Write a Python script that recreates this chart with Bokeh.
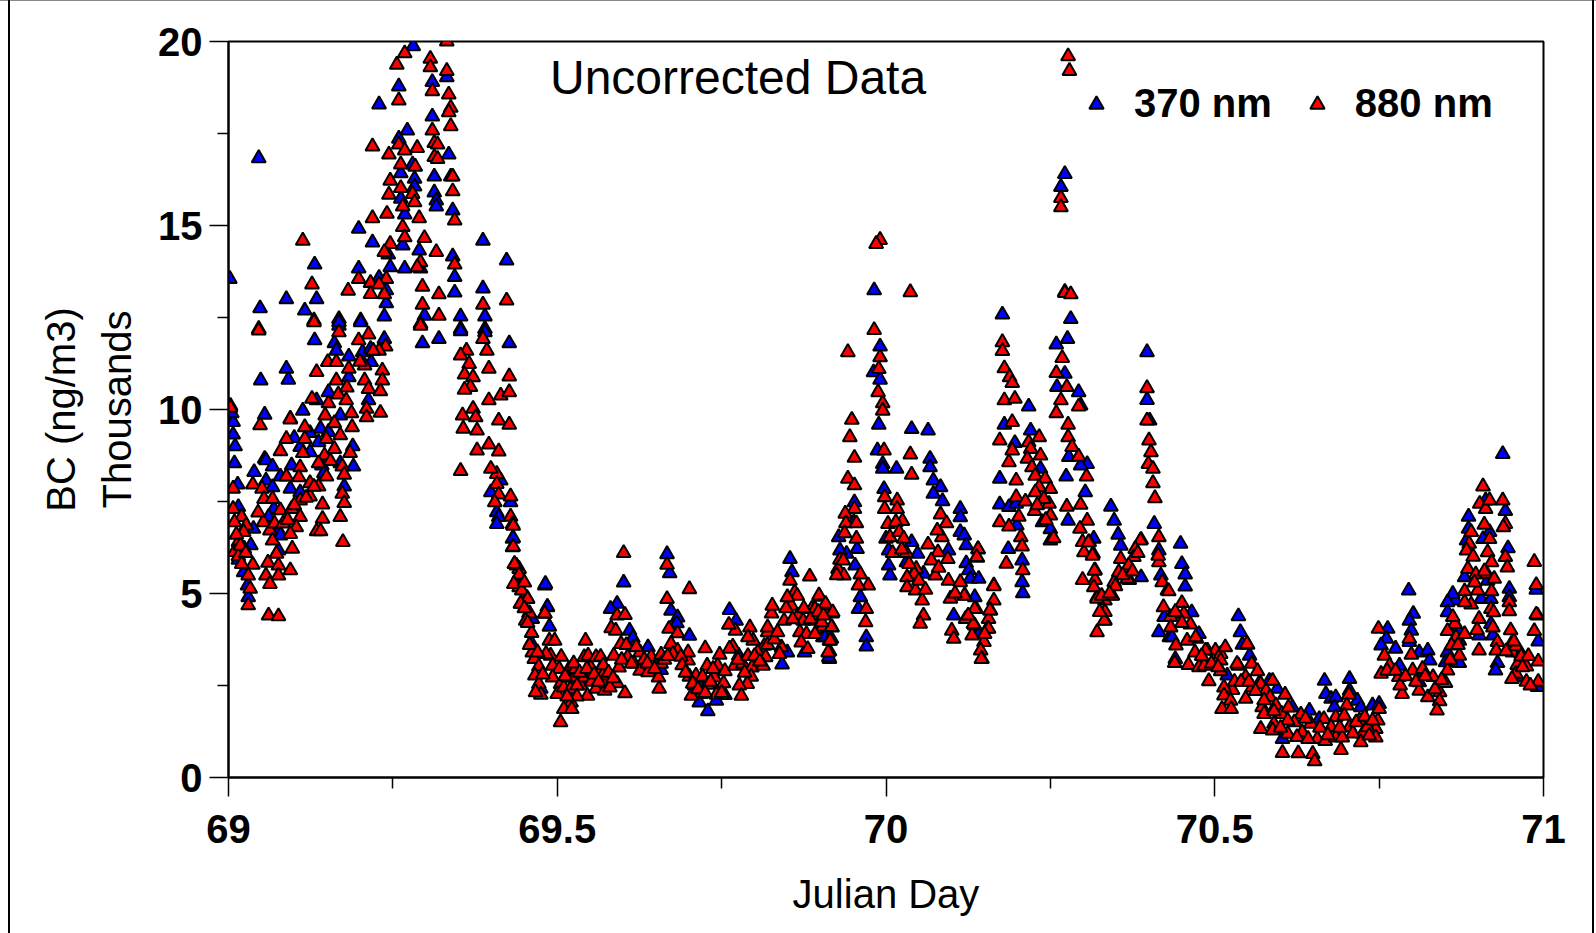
from bokeh.plotting import figure
from bokeh.embed import file_html
from bokeh.resources import INLINE
from bokeh.models import FixedTicker, Legend, LegendItem, LinearAxis, Label

blue_peak = [(69.281,19.87),(69.31,18.9),(69.332,19.03),(69.259,18.78),(69.229,18.29),(69.31,17.96),(69.272,17.58),(69.259,17.36),(69.335,16.93),(69.046,16.83),(69.28,16.66),(69.262,16.42),(69.283,16.27),(69.283,16.06),(69.313,16.33),(69.338,16.33),(69.313,15.9),(69.316,15.68),(69.316,15.52),(69.262,15.73),(69.341,15.41),(69.268,15.3),(69.198,14.91),(69.387,14.59),(69.219,14.54),(69.265,14.46),(69.29,14.32),(69.243,14.21),(69.341,14.16),(69.423,14.05),(69.131,13.94),(69.198,13.83),(69.246,13.87),(69.268,13.83),(69.292,13.83),(69.002,13.55),(69.229,13.58),(69.344,13.6),(69.24,13.24),(69.387,13.29),(69.344,13.18),(69.088,13.0),(69.134,13.0),(69.24,12.89),(69.048,12.75),(69.116,12.69),(69.168,12.46),(69.201,12.42),(69.237,12.53),(69.298,12.55),(69.353,12.53),(69.39,12.53),(69.168,12.28),(69.353,12.19),(69.39,12.19)]
blue_rise = [(69.168,12.37),(69.201,12.37),(69.353,12.13),(69.39,12.1),(69.131,11.88),(69.161,11.8),(69.295,11.8),(69.32,11.92),(69.427,11.8),(69.237,11.92),(69.164,11.6),(69.204,11.56),(69.216,11.65),(69.183,11.44),(69.217,11.29),(69.088,11.11),(69.049,10.79),(69.091,10.81),(69.183,10.88),(69.152,10.47),(69.213,10.25),(69.134,10.25),(69.113,9.97),(69.055,9.86),(69.094,9.75),(69.007,9.66),(69.17,9.84),(69.14,9.48),(69.007,9.32),(69.124,9.36),(69.1,9.23),(69.152,9.39),(69.01,9.0),(69.137,9.11),(69.189,9.0),(69.109,8.98),(69.124,8.84),(69.055,8.66),(69.057,8.62),(69.009,8.54),(69.067,8.45),(69.142,8.48),(69.17,8.54),(69.19,8.45),(69.096,8.48),(69.039,8.3),(69.079,8.18),(69.057,8.07),(69.145,8.27),(69.014,7.96),(69.067,7.89),(69.094,7.85),(69.176,7.91),(69.109,7.75),(69.414,8.07),(69.399,7.75),(69.429,7.48),(69.015,7.35),(69.069,7.3),(69.061,7.08),(69.408,7.21),(69.411,7.08),(69.408,6.89),(69.038,6.76),(69.076,6.71),(69.079,6.58),(69.034,6.31),(69.432,6.49),(69.076,6.17),(69.015,5.92),(69.023,5.58),(69.029,5.22),(69.03,4.9),(69.481,5.22),(69.435,5.8),(69.485,4.63),(69.003,10.1),(69.005,9.9)]
blue_trough = [(69.433,6.51),(69.482,5.26),(69.485,4.64),(69.488,4.1),(69.601,5.3),(69.591,4.72),(69.581,4.58),(69.61,3.99),(69.615,3.79),(69.667,6.07),(69.671,5.55),(69.673,4.53),(69.683,4.35),(69.682,4.19),(69.701,3.85),(69.729,1.8),(69.755,2.24),(69.742,2.09),(69.716,2.04),(69.719,2.45),(69.762,4.55),(69.772,4.26),(69.776,3.31),(69.854,5.94),(69.857,5.58),(69.842,3.07),(69.85,3.4),(69.914,3.22),(69.904,3.81),(69.876,3.4),(69.658,2.92),(69.638,3.54),(69.46,3.67),(69.462,4.31),(69.475,2.41),(69.907,3.81),(69.917,3.77)]
blue_day70 = [(69.982,13.24),(69.991,11.71),(69.981,11.01),(69.991,10.81),(69.989,9.59),(70.039,9.47),(70.064,9.43),(69.987,8.89),(69.995,8.52),(69.995,8.39),(70.016,8.39),(70.067,8.66),(70.067,8.43),(70.072,8.07),(70.083,7.89),(70.072,7.71),(70.086,7.51),(69.997,7.84),(69.952,7.48),(69.951,6.94),(70.113,7.3),(70.113,7.07),(70.113,6.67),(70.119,6.58),(70.122,6.31),(70.095,6.17),(69.94,6.08),(69.93,6.17),(69.928,6.53),(69.956,6.21),(69.953,5.76),(70.0,6.49),(70.004,6.17),(70.004,5.76),(70.006,5.49),(70.039,6.4),(70.048,6.08),(70.031,5.85),(70.057,5.54),(70.122,5.82),(70.126,5.63),(70.128,5.4),(70.141,5.4),(70.135,4.9),(69.961,4.9),(69.958,4.58),(70.103,4.4),(69.97,3.81),(69.97,3.56),(69.913,3.27),(70.141,3.9)]
blue_day70b = [(70.272,16.4),(70.266,16.05),(70.272,13.2),(70.177,12.58),(70.18,9.59),(70.196,9.09),(70.173,8.12),(70.173,7.42),(70.187,7.35),(70.198,7.44),(70.199,6.85),(70.186,6.21),(70.207,5.9),(70.207,5.31),(70.208,5.01),(70.217,10.08),(70.22,9.43),(70.235,8.39),(70.238,6.94),(70.25,6.75),(70.25,6.44),(70.281,12.46),(70.276,11.92),(70.259,11.77),(70.272,10.97),(70.293,10.47),(70.26,10.61),(70.296,10.11),(70.278,8.71),(70.306,8.52),(70.296,8.48),(70.274,8.18),(70.303,7.75),(70.277,6.98),(70.342,7.36),(70.347,6.98),(70.353,6.6),(70.357,6.3),(70.316,6.49),(70.321,4.9),(70.388,5.44),(70.397,11.56),(70.397,10.26),(70.401,9.7),(70.408,6.89),(70.415,6.17),(70.418,5.49),(70.431,3.81),(70.423,4.36),(70.415,3.95)]
blue_end = [(70.448,6.35),(70.45,5.8),(70.455,5.52),(70.455,5.19),(70.465,4.49),(70.476,3.9),(70.44,3.22),(70.435,3.81),(70.536,4.38),(70.539,3.95),(70.542,3.61),(70.553,3.31),(70.519,2.77),(70.618,1.91),(70.644,1.82),(70.603,1.05),(70.667,2.63),(70.669,2.27),(70.677,2.14),(70.684,2.18),(70.682,1.91),(70.705,2.68),(70.705,2.36),(70.717,2.09),(70.722,1.91),(70.74,1.96),(70.75,2.0),(70.659,1.59),(70.583,2.63),(70.595,2.41),(70.567,2.54),(70.763,4.04),(70.761,3.77),(70.753,3.59),(70.775,3.5),(70.781,3.04),(70.795,5.08),(70.802,4.45),(70.796,4.26),(70.799,3.99),(70.796,3.68),(70.811,3.4),(70.824,3.45),(70.827,3.18),(70.811,2.59),(70.854,3.4),(70.851,3.13),(70.872,3.11),(70.866,4.81),(70.862,4.99),(70.854,4.76),(70.854,4.49),(70.872,3.72),(70.87,4.04),(70.886,7.09),(70.886,6.76),(70.883,6.44),(70.88,5.44),(70.905,4.85),(70.92,4.85),(70.912,7.53),(70.918,6.67),(70.908,6.48),(70.915,5.35),(70.92,4.17),(70.923,3.86),(70.93,3.11),(70.927,2.91),(70.902,3.86),(70.938,8.79),(70.942,7.24),(70.946,6.23),(70.948,5.13),(70.948,4.9),(70.951,3.63),(70.96,2.73),(70.991,4.4),(70.992,3.7),(70.991,2.46),(70.989,5.1)]

red_peak = [(69.268,19.68),(69.256,19.37),(69.307,19.53),(69.307,19.3),(69.332,20.0),(69.332,19.2),(69.31,18.65),(69.335,18.56),(69.259,18.4),(69.338,18.2),(69.335,18.08),(69.338,17.7),(69.31,17.58),(69.219,17.15),(69.259,17.2),(69.244,16.93),(69.268,17.04),(69.287,17.11),(69.313,17.24),(69.318,17.2),(69.313,16.86),(69.318,16.81),(69.262,16.66),(69.284,16.6),(69.246,16.22),(69.262,16.02),(69.341,16.33),(69.341,15.93),(69.244,15.84),(69.28,15.86),(69.283,15.63),(69.265,15.52),(69.241,15.32),(69.219,15.2),(69.29,15.2),(69.265,14.96),(69.344,15.14),(69.268,14.68),(69.298,14.66),(69.113,14.59),(69.246,14.5),(69.237,14.28),(69.316,14.28),(69.292,14.0),(69.287,13.87),(69.344,13.94),(69.198,13.55),(69.24,13.55),(69.216,13.44),(69.229,13.4),(69.127,13.4),(69.182,13.23),(69.295,13.34),(69.216,13.14),(69.237,13.13),(69.32,13.13),(69.295,12.85),(69.387,12.85),(69.423,12.96),(69.32,12.55),(69.13,12.42),(69.292,12.33),(69.046,12.19)]
red_rise = [(69.046,12.15),(69.13,12.37),(69.168,12.1),(69.213,12.04),(69.198,11.88),(69.239,11.71),(69.229,11.6),(69.292,12.28),(69.387,11.92),(69.362,11.6),(69.353,11.47),(69.393,11.6),(69.151,11.29),(69.164,11.29),(69.207,11.2),(69.366,11.24),(69.183,11.11),(69.134,11.02),(69.234,11.06),(69.396,11.11),(69.164,10.79),(69.207,10.79),(69.234,10.79),(69.359,10.95),(69.372,10.88),(69.427,10.9),(69.213,10.56),(69.231,10.5),(69.368,10.61),(69.359,10.54),(69.167,10.41),(69.127,10.29),(69.179,10.25),(69.152,10.17),(69.396,10.25),(69.414,10.38),(69.427,10.47),(69.003,10.05),(69.21,10.02),(69.147,9.84),(69.187,9.9),(69.231,9.91),(69.21,9.79),(69.372,10.02),(69.356,9.84),(69.376,9.79),(69.048,9.57),(69.094,9.73),(69.161,9.63),(69.116,9.52),(69.188,9.52),(69.411,9.7),(69.427,9.59),(69.357,9.48),(69.378,9.43),(69.088,9.2),(69.116,9.2),(69.149,9.2),(69.396,9.05),(69.079,8.87),(69.113,8.82),(69.161,8.93),(69.146,8.75),(69.185,8.82),(69.378,8.89),(69.411,8.86),(69.137,8.54),(69.109,8.43),(69.173,8.45),(69.353,8.33),(69.408,8.25),(69.088,8.18),(69.107,8.16),(69.149,8.18),(69.176,8.23),(69.399,8.39),(69.124,8.0),(69.037,7.96),(69.007,7.85),(69.051,7.85),(69.137,7.91),(69.408,7.98),(69.054,7.57),(69.067,7.57),(69.109,7.53),(69.124,7.64),(69.143,7.42),(69.173,7.71),(69.176,7.46),(69.411,7.69),(69.429,7.64),(69.405,7.48),(69.007,7.3),(69.02,7.08),(69.079,7.26),(69.096,7.3),(69.109,7.08),(69.17,7.08),(69.143,7.03),(69.429,7.09),(69.009,6.94),(69.027,6.85),(69.053,6.94),(69.103,6.8),(69.063,6.71),(69.023,6.67),(69.094,6.62),(69.134,6.69),(69.14,6.69),(69.432,6.88),(69.174,6.4),(69.015,6.4),(69.067,6.44),(69.024,6.22),(69.009,6.13),(69.097,6.22),(69.432,6.26),(69.073,6.08),(69.015,6.01),(69.06,5.84),(69.076,5.76),(69.037,5.78),(69.094,5.63),(69.442,5.67),(69.438,5.76),(69.03,5.49),(69.057,5.49),(69.076,5.49),(69.063,5.26),(69.442,5.49),(69.033,5.13),(69.435,5.26),(69.442,5.17),(69.454,4.88),(69.03,4.68),(69.445,4.72),(69.061,4.4),(69.076,4.38),(69.457,4.47),(69.481,4.45)]
red_trough = [(69.433,6.84),(69.433,6.27),(69.435,5.8),(69.442,5.51),(69.434,5.26),(69.446,5.08),(69.455,4.85),(69.444,4.72),(69.458,4.46),(69.452,4.26),(69.461,3.93),(69.462,3.4),(69.465,3.22),(69.472,3.02),(69.466,2.77),(69.472,2.54),(69.475,2.25),(69.467,2.32),(69.481,4.46),(69.488,3.72),(69.496,3.72),(69.49,3.31),(69.506,3.28),(69.483,3.36),(69.493,3.04),(69.503,2.95),(69.493,2.72),(69.505,2.54),(69.5,2.27),(69.51,2.45),(69.518,2.95),(69.516,2.72),(69.526,2.72),(69.521,2.04),(69.505,1.5),(69.51,1.86),(69.522,1.86),(69.536,2.5),(69.528,2.95),(69.541,3.27),(69.543,3.72),(69.547,3.31),(69.546,2.22),(69.541,2.72),(69.551,2.99),(69.559,3.27),(69.566,3.28),(69.566,2.95),(69.559,2.41),(69.572,2.36),(69.574,2.56),(69.569,2.77),(69.586,3.31),(69.594,2.99),(69.591,2.56),(69.603,2.29),(69.601,6.1),(69.591,4.4),(69.603,4.42),(69.582,4.06),(69.589,3.99),(69.597,3.63),(69.616,3.54),(69.607,3.27),(69.626,3.4),(69.617,3.09),(69.643,3.28),(69.626,2.9),(69.638,2.86),(69.658,3.34),(69.658,3.09),(69.654,2.72),(69.655,2.41),(69.667,4.85),(69.667,5.78),(69.701,5.12),(69.67,4.04),(69.683,3.92),(69.673,3.63),(69.699,3.18),(69.699,3.4),(69.683,3.45),(69.676,3.36),(69.688,3.28),(69.725,3.51),(69.747,3.34),(69.728,3.04),(69.744,3.04),(69.755,2.89),(69.701,2.74),(69.711,2.77),(69.721,2.74),(69.739,2.72),(69.753,2.56),(69.709,2.5),(69.729,2.52),(69.719,2.27),(69.742,2.25),(69.704,2.22),(69.767,3.56),(69.771,3.99),(69.761,4.15),(69.793,4.08),(69.798,3.72),(69.79,3.81),(69.77,3.04),(69.782,3.09),(69.796,2.99),(69.795,2.74),(69.789,2.54),(69.777,2.5),(69.78,2.22),(69.815,3.58),(69.805,3.4),(69.817,3.27),(69.813,3.04),(69.841,3.54),(69.82,3.95),(69.82,4.08),(69.826,4.46),(69.827,4.67),(69.845,4.26),(69.854,5.35),(69.884,5.46),(69.861,5.03),(69.865,4.94),(69.856,4.67),(69.899,4.91),(69.887,4.58),(69.909,4.67),(69.918,4.46),(69.866,4.4),(69.874,4.26),(69.892,4.26),(69.918,4.08),(69.904,4.1),(69.869,3.95),(69.879,3.9),(69.892,3.9),(69.914,3.72),(69.914,3.43),(69.871,3.67),(69.881,3.49),(69.838,3.36),(69.898,4.95),(69.908,4.72),(69.919,4.49),(69.917,4.09),(69.915,3.72),(69.912,3.4),(69.892,4.58),(69.902,4.22)]
red_day70 = [(69.991,14.61),(69.985,14.5),(70.037,13.19),(69.982,12.16),(69.942,11.56),(69.991,11.42),(69.989,11.1),(69.988,10.47),(69.995,10.17),(69.995,9.97),(69.948,9.72),(69.945,9.25),(69.952,8.69),(69.997,8.89),(70.037,8.78),(70.039,8.23),(69.942,8.12),(69.952,7.94),(69.998,7.62),(70.017,7.53),(69.998,7.3),(70.017,7.3),(69.952,7.3),(69.938,7.17),(69.939,6.91),(69.955,6.91),(69.937,6.64),(69.955,6.49),(70.003,6.89),(70.025,6.97),(70.015,6.94),(70.006,6.53),(70.02,6.67),(70.027,6.49),(70.083,7.15),(70.092,6.91),(70.085,6.53),(70.078,6.71),(70.064,6.33),(70.031,6.1),(70.14,6.2),(70.079,6.12),(70.094,5.94),(70.139,5.97),(70.069,5.9),(69.93,5.92),(69.927,5.67),(69.936,5.49),(69.961,5.52),(70.046,5.67),(70.043,5.53),(70.075,5.49),(70.095,5.35),(69.973,5.22),(69.958,5.22),(70.032,5.44),(70.113,5.31),(70.032,5.17),(70.045,5.08),(70.098,4.86),(70.12,4.95),(70.055,4.81),(70.164,5.22),(70.164,4.81),(69.97,4.58),(70.057,4.4),(70.137,4.58),(70.159,4.54),(70.121,4.31),(70.156,4.31),(70.135,4.13),(70.052,4.18),(69.969,4.22),(70.1,3.99),(70.103,3.77),(70.154,4.04),(70.131,3.86),(70.149,3.68),(70.144,3.45),(70.146,3.22),(70.14,6.21),(70.138,5.99),(70.164,5.2),(70.158,4.54),(70.156,4.04),(70.145,3.22),(70.135,4.58),(70.133,4.17),(70.119,4.94)]
red_day70b = [(70.277,19.6),(70.279,19.2),(70.266,15.75),(70.266,15.5),(70.272,13.17),(70.281,13.13),(70.177,11.83),(70.177,11.59),(70.18,11.12),(70.188,10.88),(70.192,10.72),(70.18,10.25),(70.196,10.29),(70.192,9.66),(70.173,9.16),(70.192,8.89),(70.187,8.57),(70.198,8.07),(70.198,7.62),(70.173,6.94),(70.187,6.82),(70.202,7.09),(70.205,6.53),(70.207,6.28),(70.183,5.81),(70.208,5.63),(70.233,9.25),(70.217,9.11),(70.22,8.93),(70.235,8.75),(70.215,8.66),(70.222,8.43),(70.227,8.2),(70.242,8.12),(70.25,7.84),(70.233,7.89),(70.227,7.75),(70.248,7.44),(70.226,7.24),(70.25,7.12),(70.24,7.57),(70.268,11.4),(70.259,10.99),(70.275,10.61),(70.266,10.25),(70.259,9.9),(70.277,9.59),(70.277,9.25),(70.283,8.98),(70.293,8.72),(70.305,8.18),(70.293,10.08),(70.275,7.36),(70.296,7.41),(70.306,6.98),(70.295,6.76),(70.299,6.4),(70.309,6.4),(70.301,6.12),(70.315,6.08),(70.318,5.63),(70.318,5.37),(70.299,5.37),(70.316,5.17),(70.344,4.95),(70.333,4.81),(70.321,4.86),(70.333,4.5),(70.333,4.27),(70.321,3.95),(70.357,5.94),(70.388,6.46),(70.37,5.37),(70.347,5.31),(70.397,10.58),(70.397,9.7),(70.4,9.16),(70.403,8.84),(70.399,8.52),(70.406,8.39),(70.406,8.0),(70.409,7.59),(70.415,6.53),(70.415,5.85),(70.42,5.31),(70.428,5.08),(70.422,4.63),(70.387,6.44),(70.379,6.21),(70.377,5.99),(70.369,5.76),(70.367,5.4),(70.354,5.58),(70.344,4.94),(70.349,5.2),(70.414,6.03),(70.328,4.94),(70.332,4.26),(70.308,6.39),(70.314,6.03),(70.317,5.62)]
red_end = [(70.43,5.06),(70.433,4.36),(70.433,4.08),(70.441,3.59),(70.439,3.11),(70.46,3.06),(70.45,4.74),(70.453,4.45),(70.463,4.16),(70.472,3.77),(70.458,3.72),(70.489,3.45),(70.476,3.0),(70.491,2.62),(70.501,3.45),(70.509,3.36),(70.509,3.18),(70.509,2.89),(70.484,3.04),(70.527,2.38),(70.514,2.45),(70.514,2.23),(70.524,2.09),(70.511,1.86),(70.525,1.86),(70.536,3.04),(70.55,3.61),(70.556,3.09),(70.565,2.89),(70.547,2.14),(70.547,2.73),(70.557,2.45),(70.57,2.54),(70.578,2.36),(70.588,2.63),(70.584,2.18),(70.572,1.91),(70.575,1.73),(70.593,1.96),(70.607,2.25),(70.602,1.73),(70.57,1.32),(70.59,1.46),(70.588,1.28),(70.631,1.71),(70.621,1.5),(70.611,1.55),(70.611,1.19),(70.603,0.67),(70.627,0.66),(70.646,1.46),(70.633,1.23),(70.649,0.64),(70.652,0.44),(70.656,1.05),(70.666,1.59),(70.668,0.99),(70.684,1.64),(70.677,1.37),(70.692,0.75),(70.684,1.09),(70.704,2.25),(70.701,1.96),(70.697,1.68),(70.705,1.37),(70.694,1.09),(70.72,1.55),(70.725,1.19),(70.722,0.96),(70.75,1.86),(70.748,1.55),(70.745,1.32),(70.745,1.09),(70.732,1.37),(70.735,1.14),(70.749,4.04),(70.758,3.31),(70.753,2.82),(70.766,3.04),(70.78,2.73),(70.785,2.27),(70.782,2.5),(70.796,3.77),(70.799,3.34),(70.801,2.91),(70.816,2.95),(70.811,2.36),(70.832,2.73),(70.842,2.32),(70.842,2.07),(70.838,1.82),(70.824,2.18),(70.854,2.91),(70.851,2.57),(70.865,4.17),(70.862,4.36),(70.854,3.98),(70.867,3.81),(70.86,3.59),(70.872,3.31),(70.89,6.67),(70.887,6.35),(70.883,6.17),(70.893,6.0),(70.885,5.67),(70.897,5.52),(70.88,5.06),(70.9,5.08),(70.89,4.7),(70.88,4.76),(70.908,7.91),(70.903,7.44),(70.912,7.3),(70.918,7.53),(70.91,6.87),(70.918,6.48),(70.915,6.12),(70.921,5.85),(70.914,5.53),(70.921,5.06),(70.92,4.58),(70.924,4.49),(70.902,4.31),(70.899,4.01),(70.902,3.45),(70.923,4.08),(70.93,3.68),(70.928,3.45),(70.938,7.53),(70.942,6.89),(70.939,6.8),(70.942,5.99),(70.945,5.71),(70.948,4.76),(70.948,4.52),(70.95,4.0),(70.953,3.4),(70.96,3.06),(70.958,2.82),(70.952,2.68),(70.966,3.36),(70.986,5.86),(70.989,5.23),(70.989,4.43),(70.986,3.98),(70.992,3.15),(70.974,3.02),(70.958,3.57),(70.943,3.43),(70.966,3.29),(70.992,2.6),(70.974,2.6),(70.98,2.5),(70.516,3.54),(70.534,3.09),(70.549,3.63),(70.486,3.45),(70.471,3.81)]
red_dense = [(69.012,6.6),(69.018,6.3),(69.026,6.1),(69.02,5.8),(69.045,7.2),(69.07,6.9),(69.083,6.9),(69.09,7.0),(69.1,7.4),(69.118,7.6),(69.13,7.9),(69.155,8.6),(69.17,9.3),(69.2,11.3),(69.22,11.6),(69.18,10.6),(69.45,5.3),(69.45,4.6),(69.455,4.2),(69.458,3.6),(69.47,3.4),(69.478,2.8),(69.512,2.75),(69.52,2.4),(69.53,2.5),(69.525,3.1),(69.534,2.85),(69.545,2.95),(69.552,2.6),(69.556,2.8),(69.563,2.6),(69.57,3.05),(69.578,2.85),(69.58,2.45),(69.585,2.7),(69.53,2.2),(69.515,2.2),(69.598,3.2),(69.605,3.6),(69.613,3.1),(69.62,3.55),(69.632,3.2),(69.637,3.1),(69.648,2.95),(69.663,3.2),(69.668,3.3),(69.69,3.05),(69.695,2.85),(69.706,2.55),(69.714,2.4),(69.725,2.3),(69.733,2.6),(69.737,2.95),(69.75,2.3),(69.762,3.5),(69.775,3.2),(69.785,2.85),(69.79,3.3),(69.8,3.3),(69.808,3.15),(69.82,3.6),(69.83,3.75),(69.835,3.95),(69.848,4.6),(69.85,4.9),(69.858,4.3),(69.875,4.6),(69.885,4.3),(69.897,4.5),(69.905,4.4),(69.925,5.5),(69.935,5.9),(70.01,6.1),(70.024,6.2),(70.035,5.8),(70.05,5.35),(70.06,5.1),(70.08,5.7),(70.105,5.0),(70.125,4.4),(70.15,3.9),(70.212,7.5),(70.23,7.4),(70.243,7.0),(70.255,6.5),(70.325,4.5),(70.34,5.0),(70.36,5.5),(70.375,5.6),(70.383,6.1),(70.44,4.5),(70.45,4.2),(70.47,3.4),(70.48,3.3),(70.495,3.1),(70.505,3.0),(70.53,2.6),(70.54,2.6),(70.552,2.6),(70.562,2.35),(70.575,2.1),(70.59,1.8),(70.6,1.35),(70.612,1.9),(70.625,1.1),(70.638,1.6),(70.642,1.05),(70.66,1.35),(70.672,1.15),(70.69,1.35),(70.71,1.2),(70.715,1.5),(70.728,1.65),(70.74,1.55),(70.762,2.9),(70.775,2.9),(70.79,2.75),(70.806,2.6),(70.82,2.75),(70.835,2.4),(70.845,2.65),(70.858,3.2),(70.87,3.6),(70.88,3.9),(70.895,5.3),(70.91,5.6),(70.925,5.4),(70.955,3.7),(70.968,3.0),(70.977,3.3)]

blue_all = blue_peak + blue_rise + blue_trough + blue_day70 + blue_day70b + blue_end
red_all = red_peak + red_rise + red_trough + red_day70 + red_day70b + red_end + red_dense

x_major = [69, 69.5, 70, 70.5, 71]
x_minor = [69.25, 69.75, 70.25, 70.75]
y_major = [0, 5, 10, 15, 20]
y_minor = [2.5, 7.5, 12.5, 17.5]

p = figure(width=1596, height=933, output_backend="svg", toolbar_location=None,
           x_range=(69, 71), y_range=(0, 20), frame_width=1315, frame_height=736,
           min_border_left=228, min_border_right=53, min_border_top=41, min_border_bottom=156,
           background_fill_color="white", border_fill_alpha=0,
           outline_line_color="black", outline_line_width=2)
p.styles = {
    "background-color": "white",
    "background-image": "linear-gradient(#000,#000),linear-gradient(#000,#000),linear-gradient(#888,#888)",
    "background-size": "2px 100%,2px 100%,100% 1px",
    "background-position": "8px 0,1592px 0,0 0",
    "background-repeat": "no-repeat",
}
p.grid.visible = False

for ax in (p.xaxis[0], p.yaxis[0]):
    ax.axis_line_color = "black"
    ax.axis_line_width = 2
    ax.major_tick_line_color = "black"
    ax.major_tick_line_width = 1.5
    ax.minor_tick_line_color = "black"
    ax.minor_tick_line_width = 1.5
    ax.major_tick_in = 0
    ax.major_tick_out = 19
    ax.minor_tick_in = 0
    ax.minor_tick_out = 11
    ax.major_label_text_font = "Liberation Sans"
    ax.major_label_text_font_style = "bold"
    ax.major_label_text_font_size = "40px"
    ax.major_label_text_color = "black"
    ax.axis_label_text_font = "Liberation Sans"
    ax.axis_label_text_font_style = "normal"
    ax.axis_label_text_font_size = "40px"
    ax.axis_label_text_color = "black"

p.xaxis[0].ticker = FixedTicker(ticks=x_major, minor_ticks=x_minor)
p.yaxis[0].ticker = FixedTicker(ticks=y_major, minor_ticks=y_minor)
p.xaxis[0].major_label_standoff = 18
p.yaxis[0].major_label_standoff = 7
p.xaxis[0].axis_label = "Julian Day"
p.xaxis[0].axis_label_standoff = 26
p.yaxis[0].axis_label = "Thousands"
p.yaxis[0].axis_label_standoff = 16

bc_axis = LinearAxis(axis_label="BC (ng/m3)", axis_label_text_font="Liberation Sans",
                     axis_label_text_font_style="normal", axis_label_text_font_size="40px",
                     axis_label_text_color="black", axis_label_standoff=10,
                     axis_line_color=None, major_tick_line_color=None, minor_tick_line_color=None,
                     major_label_text_font_size="0px", major_tick_in=0, major_tick_out=0,
                     minor_tick_in=0, minor_tick_out=0, major_label_standoff=0,
                     ticker=FixedTicker(ticks=[]))
p.add_layout(bc_axis, "left")

r_blue = p.scatter([q[0] for q in blue_all], [q[1] for q in blue_all], marker="triangle", size=14,
                   fill_color="#0000ff", line_color="black", line_width=2)
r_red = p.scatter([q[0] for q in red_all], [q[1] for q in red_all], marker="triangle", size=14,
                  fill_color="#ff0000", line_color="black", line_width=2)

legend = Legend(items=[LegendItem(label="370 nm", renderers=[r_blue]),
                       LegendItem(label="880 nm", renderers=[r_red])],
                orientation="horizontal", location=(850, 651), padding=0, margin=0, spacing=27,
                glyph_width=36, glyph_height=36, label_standoff=20,
                label_text_font="Liberation Sans", label_text_font_style="bold",
                label_text_font_size="40px", label_text_color="black",
                border_line_color=None, background_fill_alpha=0)
p.add_layout(legend)

p.add_layout(Label(x=69.775, y=19.02, text="Uncorrected Data", text_align="center", text_baseline="middle",
                   text_font="Liberation Sans", text_font_size="48px", text_color="black"))

open("out.html", "w").write(file_html(p, INLINE))
